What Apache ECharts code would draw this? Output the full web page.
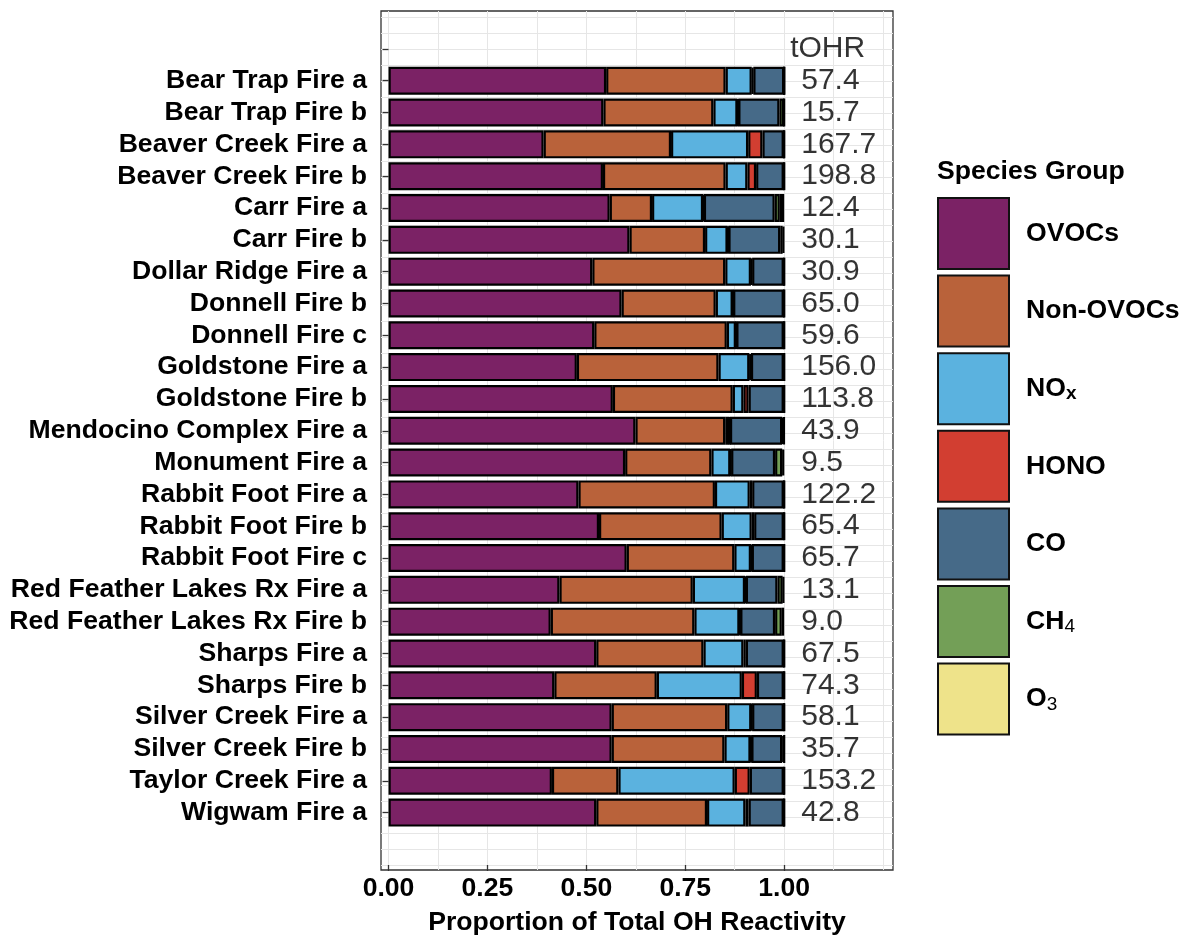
<!DOCTYPE html>
<html>
<head>
<meta charset="utf-8">
<script src="https://cdn.jsdelivr.net/npm/echarts@6/dist/echarts.min.js"></script>
<style>
  html, body { margin: 0; padding: 0; background: #fff; }
  #box { width: 1184px; height: 941px; }
</style>
</head>
<body>
<div id="box"></div>
<script>
// fires, top to bottom
const fires = ['Bear Trap Fire a', 'Bear Trap Fire b', 'Beaver Creek Fire a', 'Beaver Creek Fire b',
  'Carr Fire a', 'Carr Fire b', 'Dollar Ridge Fire a', 'Donnell Fire b', 'Donnell Fire c',
  'Goldstone Fire a', 'Goldstone Fire b', 'Mendocino Complex Fire a', 'Monument Fire a',
  'Rabbit Foot Fire a', 'Rabbit Foot Fire b', 'Rabbit Foot Fire c', 'Red Feather Lakes Rx Fire a',
  'Red Feather Lakes Rx Fire b', 'Sharps Fire a', 'Sharps Fire b', 'Silver Creek Fire a',
  'Silver Creek Fire b', 'Taylor Creek Fire a', 'Wigwam Fire a'];

// proportion of total OH reactivity per species group
const ovocs    = [.550, .543, .392, .542, .559, .609, .515, .589, .520, .476, .567, .624, .598, .480, .532, .602, .432, .410, .525, .419, .564, .564, .413, .525];
const nonOvocs = [.302, .278, .322, .310, .107, .191, .336, .238, .335, .358, .303, .227, .218, .345, .310, .272, .337, .363, .271, .259, .292, .285, .168, .280];
const nox      = [.066, .061, .195, .055, .129, .057, .065, .043, .023, .078, .027, .011, .048, .088, .076, .042, .132, .114, .101, .215, .061, .066, .294, .097];
const hono     = [.004, .002, .036, .022, .002, .002, .003, .001, .001, .004, .013, .001, .002, .006, .006, .002, .002, .002, .006, .038, .002, .002, .038, .008];
const co       = [.078, .104, .054, .070, .179, .131, .080, .128, .120, .083, .089, .132, .111, .080, .075, .081, .080, .088, .096, .068, .080, .078, .086, .089];
const ch4      = [0, .012, .001, .001, .013, .006, .001, .001, .001, .001, .001, .004, .018, .001, .001, .001, .013, .017, .001, .001, .001, .005, .001, .001];
const o3       = [0, 0, 0, 0, .011, .004, 0, 0, 0, 0, 0, .001, .005, 0, 0, 0, .004, .006, 0, 0, 0, 0, 0, 0];

// total OH reactivity
const tohr = ['57.4', '15.7', '167.7', '198.8', '12.4', '30.1', '30.9', '65.0', '59.6', '156.0', '113.8', '43.9',
  '9.5', '122.2', '65.4', '65.7', '13.1', '9.0', '67.5', '74.3', '58.1', '35.7', '153.2', '42.8'];

const groups = ['OVOCs', 'Non-OVOCs', 'NOx', 'HONO', 'CO', 'CH4', 'O3'];
const groupData = [ovocs, nonOvocs, nox, hono, co, ch4, o3];
const xTicks = [0, 0.25, 0.5, 0.75, 1];

const colors = ['#7B2265', '#B9623A', '#5BB2DF', '#D23E31', '#466A88', '#739F57', '#EEE38A'];
const legendText = {
  'NOx': '{g|}NO{sub|x}',
  'CH4': '{g|}CH{sub2|4}',
  'O3': '{g|}O{sub2|3}'
};

const chart = echarts.init(document.getElementById('box'));

// vertical grid every 0.125, horizontal grid every half row
const vGrid = [];
for (let v = 0; v <= 1.25 + 1e-9; v += 0.125) vGrid.push(+v.toFixed(3));
const hGrid = [];
for (let r = -1; r <= 25.5; r += 0.5) hGrid.push(r);

const xMin = -0.019, xMax = 1.275;
const font = 'Liberation Sans, Arial, sans-serif';
const fs = 26.6;

const series = groups.map((g, k) => ({
  name: g,
  type: 'bar',
  stack: 'total',
  xAxisIndex: 1,
  yAxisIndex: 1,
  barWidth: 28,
  itemStyle: { color: colors[k], borderColor: '#000', borderWidth: 2.2 },
  data: ['-'].concat(groupData[k])
}));

series.push({
  type: 'scatter',
  xAxisIndex: 1,
  yAxisIndex: 1,
  symbolSize: 0,
  silent: true,
  data: tohr.map((t, i) => ({ value: [1.043, i + 1], name: t })).concat([{ value: [1.015, 0], name: 'tOHR' }]),
  label: {
    show: true,
    position: 'right',
    distance: 0,
    formatter: p => p.name,
    fontFamily: font,
    fontSize: 30,
    color: '#000'
  }
});

chart.setOption({
  backgroundColor: '#fff',
  animation: false,
  textStyle: { fontFamily: font },
  title: {
    text: 'Species Group',
    left: 937,
    top: 158,
    padding: 0,
    textStyle: { fontSize: fs, fontWeight: 'bold', color: '#000', fontFamily: font }
  },
  legend: {
    orient: 'vertical',
    left: 937,
    top: 197,
    padding: 0,
    itemWidth: 71,
    itemHeight: 71,
    itemGap: 4.6,
    icon: 'rect',
    data: groups,
    itemStyle: { borderColor: '#111', borderWidth: 2 },
    formatter: name => legendText[name] || ('{g|}' + name),
    textStyle: {
      fontSize: fs,
      fontWeight: 'bold',
      color: '#000',
      lineHeight: 30,
      fontFamily: font,
      rich: {
        g: { width: 12 },
        sub: { fontSize: 19, fontWeight: 'bold', lineHeight: 19, verticalAlign: 'bottom', fontFamily: font, color: '#000' },
        sub2: { fontSize: 19, fontWeight: 'normal', lineHeight: 19, verticalAlign: 'bottom', fontFamily: font, color: '#000' }
      }
    }
  },
  grid: [
    { left: 381, top: 11, width: 512, height: 859, show: true, borderColor: '#333', borderWidth: 1.3, backgroundColor: '#fff' },
    { left: 381, top: 33, width: 512, height: 800.5 }
  ],
  xAxis: [
    {
      gridIndex: 0, type: 'value', min: xMin, max: xMax,
      axisLine: { show: false },
      axisTick: { show: false, customValues: vGrid },
      axisLabel: { show: false },
      splitLine: { show: true, lineStyle: { color: '#e6e6e6', width: 1 } }
    },
    {
      gridIndex: 1, type: 'value', min: xMin, max: xMax, position: 'bottom', offset: 36.5,
      axisLine: { show: false },
      axisTick: { show: true, customValues: xTicks, length: 6, lineStyle: { color: '#333', width: 1.3 } },
      axisLabel: {
        customValues: xTicks, margin: 10, fontSize: fs, fontWeight: 'bold', color: '#000', fontFamily: font,
        formatter: v => v.toFixed(2)
      },
      splitLine: { show: false },
      name: 'Proportion of Total OH Reactivity',
      nameLocation: 'middle',
      nameGap: 44,
      nameTextStyle: { fontSize: fs, fontWeight: 'bold', color: '#000', fontFamily: font }
    }
  ],
  yAxis: [
    {
      gridIndex: 0, type: 'value', inverse: true, min: -1.187, max: 25.64,
      axisLine: { show: false },
      axisTick: { show: false, customValues: hGrid },
      axisLabel: { show: false },
      splitLine: { show: true, lineStyle: { color: '#e6e6e6', width: 1 } }
    },
    {
      gridIndex: 1, type: 'category', inverse: true,
      data: [''].concat(fires),
      axisLine: { show: false },
      axisTick: { show: true, alignWithLabel: true, length: 6, lineStyle: { color: '#333', width: 1.3 } },
      axisLabel: { margin: 14, fontSize: fs, fontWeight: 'bold', color: '#000', fontFamily: font, interval: 0 },
      splitLine: { show: false }
    }
  ],
  series: series
});
</script>
</body>
</html>
